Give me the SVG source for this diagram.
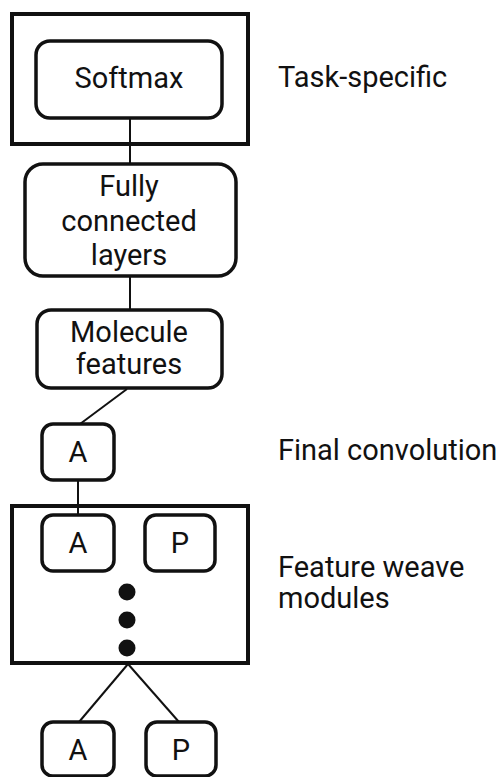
<svg xmlns="http://www.w3.org/2000/svg" width="500" height="777" viewBox="0 0 500 777">
<style>
.frame{fill:none;stroke:#111;stroke-width:4}
.node{fill:#fff;stroke:#111;stroke-width:3.5}
.edge{fill:none;stroke:#111;stroke-width:2}
text{font-family:Roboto,"Liberation Sans",sans-serif;font-size:29px;fill:#111}
.c{text-anchor:middle}
</style>
<rect width="500" height="777" fill="#fff"/>
<rect class="frame" x="12" y="14" width="236" height="130"/>
<rect class="frame" x="12" y="506" width="236" height="157"/>
<g id="connectors">
<line class="edge" x1="130" y1="118" x2="130" y2="163"/>
<line class="edge" x1="130" y1="277" x2="130" y2="309"/>
<line class="edge" x1="127" y1="389" x2="80" y2="424"/>
<line class="edge" x1="78" y1="480" x2="78" y2="515"/>
<line class="edge" x1="128" y1="664" x2="79" y2="722"/>
<line class="edge" x1="128" y1="664" x2="179" y2="722"/>
</g>
<g id="softmax"><rect class="node" x="36" y="41" width="186" height="77" rx="14"/><text class="c" x="129" y="88">Softmax</text></g>
<g id="fc"><rect class="node" x="25" y="164" width="211" height="112" rx="18"/><text class="c" x="129" y="196">Fully</text><text class="c" x="129" y="231">connected</text><text class="c" x="129" y="265">layers</text></g>
<g id="molecule"><rect class="node" x="37" y="310" width="185" height="78" rx="14"/><text class="c" x="129" y="342">Molecule</text><text class="c" x="129" y="374">features</text></g>
<g id="a-final"><rect class="node" x="42" y="424" width="72" height="56" rx="11"/><text class="c" x="78" y="462">A</text></g>
<g id="a-weave"><rect class="node" x="42" y="515" width="72" height="56" rx="11"/><text class="c" x="78" y="553">A</text></g>
<g id="p-weave"><rect class="node" x="145" y="515" width="70" height="56" rx="11"/><text class="c" x="180" y="553">P</text></g>
<g id="dots"><circle cx="127" cy="592" r="8.5" fill="#111"/><circle cx="127" cy="620" r="8.5" fill="#111"/><circle cx="127" cy="648" r="8.5" fill="#111"/></g>
<g id="a-bottom"><rect class="node" x="42" y="722" width="72" height="54" rx="11"/><text class="c" x="78" y="760">A</text></g>
<g id="p-bottom"><rect class="node" x="146" y="722" width="70" height="54" rx="11"/><text class="c" x="181" y="760">P</text></g>
<g id="labels">
<text x="278" y="87">Task-specific</text>
<text x="278" y="460">Final convolution</text>
<text x="278" y="577">Feature weave</text>
<text x="278" y="608">modules</text>
</g>
</svg>
